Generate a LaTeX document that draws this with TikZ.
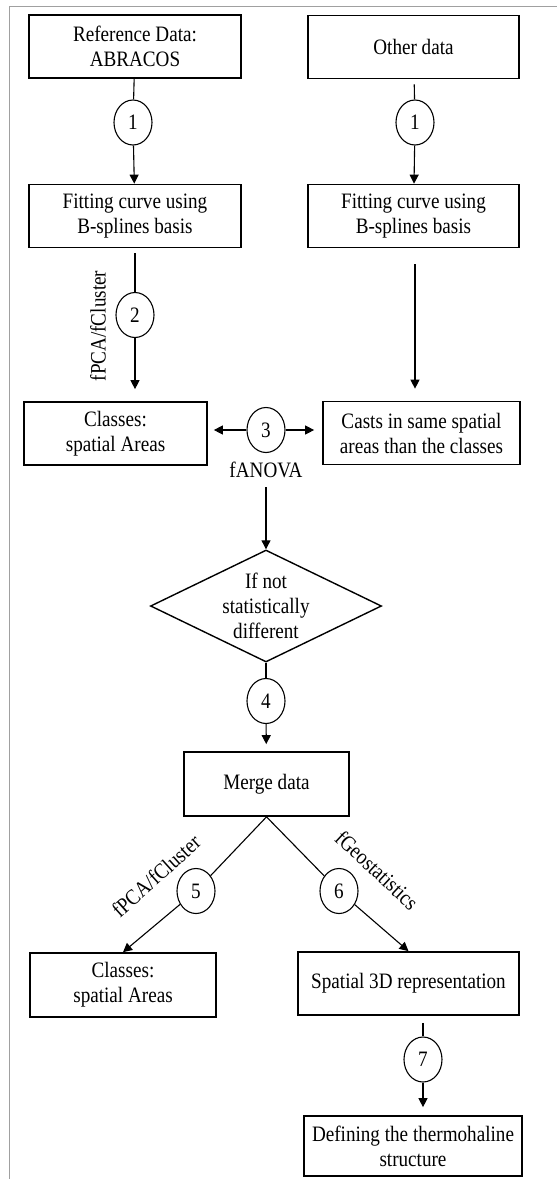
\documentclass[tikz,border=0pt]{standalone}
\usepackage{fontspec}
\setmainfont{Liberation Serif}[FakeStretch=0.87]
\usetikzlibrary{positioning,arrows.meta,shapes.geometric}
\definecolor{frame1}{HTML}{A0A0A0}

\begin{document}
\begin{tikzpicture}[
    x=1pt, y=1pt,
    >={Triangle[length=9pt,width=9pt]},
    box/.style={draw, line width=1.7pt, minimum height=63pt, align=center,
                inner sep=2pt, font=\fontsize{22}{25}\selectfont},
    num/.style={draw, ellipse, line width=1.1pt, minimum width=38pt,
                minimum height=45pt, inner sep=0pt,
                font=\fontsize{22}{25}\selectfont},
    decision/.style={draw, diamond, line width=1.4pt, aspect=2.06,
                minimum width=231pt, minimum height=112pt, inner sep=0pt,
                align=center, font=\fontsize{22}{25}\selectfont},
    lbl/.style={inner sep=1pt, font=\fontsize{22}{25}\selectfont},
    arr/.style={->, line width=1.1pt},
    ln/.style={line width=1.1pt},
]
\useasboundingbox (0,0) rectangle (557,-1179);
\draw[frame1, line width=1pt] (9,-1179) -- (9,-6) -- (557,-6);

\node[box, minimum width=212pt] (ref) at (135,-46.5) {Reference Data:\\ABRACOS};
\node[box, minimum width=211pt] (oth) at (413.5,-47) {Other data};
\node[num] (c1a) at (133,-122.5) {1};
\node[num] (c1b) at (415,-122.5) {1};
\node[box, minimum width=212pt] (fit1) at (135,-216) {Fitting curve using\\B-splines basis};
\node[box, minimum width=211pt] (fit2) at (413.5,-216) {Fitting curve using\\B-splines basis};
\node[num] (c2) at (135,-315) {2};
\node[lbl, rotate=90] (pca1) at (98,-326) {fPCA/fCluster};
\node[box, minimum width=183pt] (cls1) at (115.5,-433.5) {Classes:\\spatial Areas};
\node[box, minimum width=197pt] (casts) at (421.5,-433) {Casts in same spatial\\areas than the classes};
\node[num] (c3) at (266,-430) {3};
\node[lbl, below=8pt of c3] (anova) {fANOVA};
\node[decision] (diam) at (266,-606) {If not\\statistically\\different};
\node[num] (c4) at (266,-701) {4};
\node[box, minimum width=165pt, minimum height=64pt] (merge) at (266.5,-784) {Merge data};
\node[num] (c5) at (196,-891) {5};
\node[num] (c6) at (339,-891) {6};
\node[lbl, rotate=42] (pca2) at (156,-876) {fPCA/fCluster};
\node[lbl, rotate=-43] (geo) at (377,-870) {fGeostatistics};
\node[box, minimum width=186pt, minimum height=64pt] (cls2) at (123,-985) {Classes:\\spatial Areas};
\node[box, minimum width=221pt] (spat) at (408.5,-983.5) {Spatial 3D representation};
\node[num] (c7) at (423,-1059.5) {7};
\node[box, minimum width=218pt, minimum height=60pt] (def) at (413,-1146) {Defining the thermohaline\\structure};

\draw[ln] (ref) -- (c1a);
\draw[arr] (c1a) -- (fit1);
\draw[ln, shorten <=5pt] (oth) -- (c1b);
\draw[arr] (c1b) -- (fit2);
\draw[ln, shorten <=5pt] (fit1.south -| c2) -- (c2);
\draw[arr, shorten >=12pt] (c2) -- (cls1.north -| c2);
\draw[arr, shorten <=16pt, shorten >=12pt] (fit2.south -| c1b) -- (casts.north -| c1b);
\draw[arr, shorten >=6pt] (c3) -- (cls1.east |- c3);
\draw[arr, shorten >=8pt] (c3) -- (casts.west |- c3);
\draw[arr, shorten <=8pt] (anova) -- (diam);
\draw[ln] (diam) -- (c4);
\draw[arr, shorten >=7pt] (c4) -- (merge);
\draw[ln] (merge.south) -- (c5);
\draw[ln] (merge.south) -- (c6);
\draw[arr] (c5) -- (cls2.north);
\draw[arr] (c6) -- (spat.north);
\draw[ln, shorten <=7pt] (spat.south -| c7) -- (c7);
\draw[arr, shorten >=8pt] (c7) -- (def.north -| c7);
\end{tikzpicture}
\end{document}
